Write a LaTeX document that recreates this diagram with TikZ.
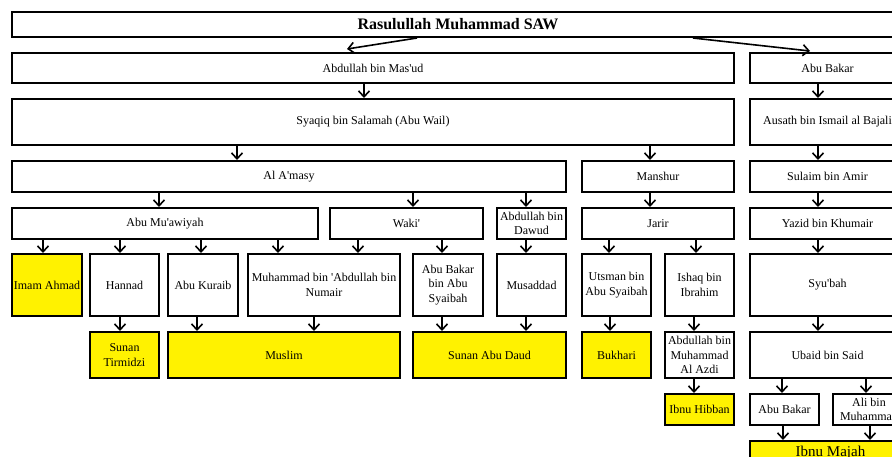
\documentclass[tikz,border=0pt]{standalone}
\usepackage{fontspec}
\setmainfont{Liberation Serif}
\newfontfamily\rf{Liberation Serif}
\usetikzlibrary{arrows.meta,calc}
\begin{document}
\begin{tikzpicture}[x=1pt,y=-1pt,
 box/.style={draw=black,line width=2pt,fill=white,align=center,inner sep=1pt,font=\rf\fontsize{12}{14.5}\selectfont},
 ybox/.style={box,fill=yellow},
 arr/.style={line width=1.6pt,-{Straight Barb[length=6pt,width=11pt]}}]
\useasboundingbox (0,0) rectangle (892,456);
\fill[white] (0,0) rectangle (892,456);
\clip (0,0) rectangle (892,456);
\newcommand\bx[7][box]{\node[#1,anchor=north west,minimum width={(#4-#2)*1pt},minimum height={(#5-#3)*1pt}] (#6) at (#2,#3) {#7};}
\newcommand\va[3]{\draw[arr] (#1,0 |- #2.south) -- (#1,0 |- #3.north);}
% row 0
\bx[box,font=\rf\fontsize{16}{19}\selectfont\bfseries]{11}{11}{903}{36}{top}{Rasulullah Muhammad SAW}
% row 1
\bx{11}{52}{733}{82}{mas}{Abdullah bin Mas'ud}
\bx{749}{52}{904}{82}{abk}{Abu Bakar}
% row 2
\bx{11}{98}{733}{144}{syq}{Syaqiq bin Salamah (Abu Wail)}
\bx{749}{98}{904}{144}{aus}{Ausath bin Ismail al Bajali}
% row 3
\bx{11}{160}{565}{191}{ama}{Al A'masy}
\bx{581}{160}{733}{191}{man}{Manshur}
\bx{749}{160}{904}{191}{sul}{Sulaim bin Amir}
% row 4
\bx{11}{207}{317}{238}{muaw}{Abu Mu'awiyah}
\bx{329}{207}{482}{238}{wak}{Waki'}
\bx{496}{207}{565}{238}{dawud}{Abdullah bin\\Dawud}
\bx{581}{207}{733}{238}{jar}{Jarir}
\bx{749}{207}{904}{238}{yaz}{Yazid bin Khumair}
% row 5
\bx[ybox]{11}{253}{81}{315}{ahm}{Imam Ahmad}
\bx{89}{253}{158}{315}{han}{Hannad}
\bx{167}{253}{237}{315}{kur}{Abu Kuraib}
\bx{247}{253}{399}{315}{num}{Muhammad bin 'Abdullah bin\\Numair}
\bx{412}{253}{482}{315}{abs}{Abu Bakar\\bin Abu\\Syaibah}
\bx{496}{253}{565}{315}{mus}{Musaddad}
\bx{581}{253}{650}{315}{uts}{Utsman bin\\Abu Syaibah}
\bx{664}{253}{733}{315}{ish}{Ishaq bin\\Ibrahim}
\bx{749}{253}{904}{315}{syu}{Syu'bah}
% row 6
\bx[ybox]{89}{331}{158}{377}{tir}{Sunan\\Tirmidzi}
\bx[ybox]{167}{331}{399}{377}{musl}{Muslim}
\bx[ybox]{412}{331}{565}{377}{sad}{Sunan Abu Daud}
\bx[ybox]{581}{331}{650}{377}{buk}{Bukhari}
\bx{664}{331}{733}{377}{azd}{Abdullah bin\\Muhammad\\Al Azdi}
\bx{749}{331}{904}{377}{uba}{Ubaid bin Said}
% row 7
\bx[ybox]{664}{393}{733}{424}{hib}{Ibnu Hibban}
\bx{749}{393}{818}{424}{abk2}{Abu Bakar}
\bx{832}{393}{904}{424}{ali}{Ali bin\\Muhammad}
% row 8
\bx[ybox,font=\rf\fontsize{15}{18}\selectfont]{749}{440}{910}{463}{maj}{Ibnu Majah}
% diagonal arrows
\draw[arr] (417,0 |- top.south) -- ($(mas.north west)+(336,-3)$);
\draw[arr] (693,0 |- top.south) -- ($(abk.north west)+(61,-1)$);
% vertical arrows
\va{364}{mas}{syq}
\va{818}{abk}{aus}
\va{237}{syq}{ama}
\va{650}{syq}{man}
\va{818}{aus}{sul}
\va{159}{ama}{muaw}
\va{413}{ama}{wak}
\va{526}{ama}{dawud}
\va{650}{man}{jar}
\va{818}{sul}{yaz}
\va{43}{muaw}{ahm}
\va{120}{muaw}{han}
\va{201}{muaw}{kur}
\va{278}{muaw}{num}
\va{358}{wak}{num}
\va{442}{wak}{abs}
\va{526}{dawud}{mus}
\va{609}{jar}{uts}
\va{696}{jar}{ish}
\va{818}{yaz}{syu}
\va{120}{han}{tir}
\va{197}{kur}{musl}
\va{314}{num}{musl}
\va{442}{abs}{sad}
\va{526}{mus}{sad}
\va{610}{uts}{buk}
\va{694}{ish}{azd}
\va{694}{azd}{hib}
\va{818}{syu}{uba}
\va{782}{uba}{abk2}
\va{866}{uba}{ali}
\va{783}{abk2}{maj}
\va{870}{ali}{maj}
\end{tikzpicture}
\end{document}
